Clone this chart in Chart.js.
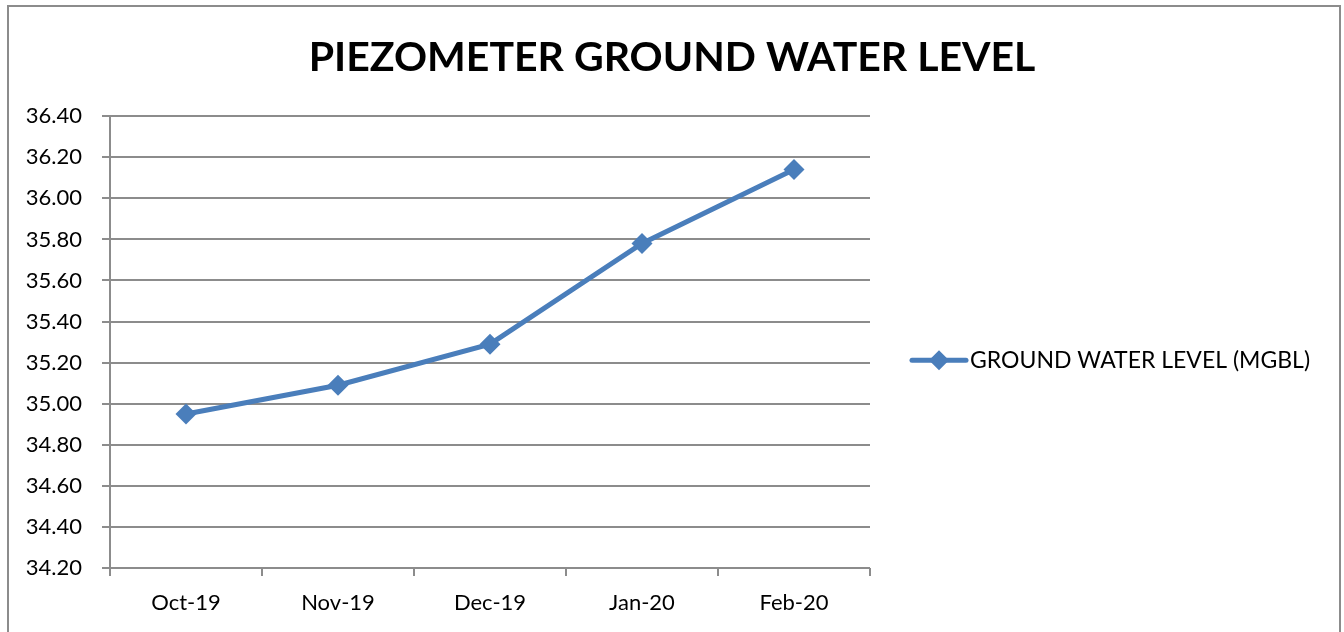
<!DOCTYPE html>
<html>
<head>
<meta charset="utf-8">
<script src="https://cdn.jsdelivr.net/npm/chart.js@4.4.1/dist/chart.umd.min.js"></script>
<style>
  html, body { margin: 0; padding: 0; background: #fff; }
  #wrap { position: relative; width: 1344px; height: 632px; overflow: hidden; }
  #frame { position: absolute; left: 7px; top: 5px; width: 1330px; height: 700px; border: 2px solid #8c8c8c; pointer-events: none; }
  canvas { position: absolute; left: 0; top: 0; }
</style>
</head>
<body>
<div id="wrap">
  <canvas id="chart" width="1344" height="632"></canvas>
  <div id="frame"></div>
</div>
<script>
const months = ['Oct-19', 'Nov-19', 'Dec-19', 'Jan-20', 'Feb-20'];
const levels = [34.95, 35.09, 35.29, 35.78, 36.14];
const yTicks = [34.2, 34.4, 34.6, 34.8, 35.0, 35.2, 35.4, 35.6, 35.8, 36.0, 36.2, 36.4];
const seriesName = 'GROUND WATER LEVEL (MGBL)';
const blue = '#4a7ebb';
const gray = '#8c8c8c';
const font = 'Lato, sans-serif';

// Excel-style legend: line with a diamond on it, to the right of the plot
const sideLegend = {
  id: 'sideLegend',
  afterDraw(chart) {
    const { ctx, chartArea } = chart;
    const x0 = chartArea.right + 42;
    const y = chartArea.top + chartArea.height * 0.54;
    ctx.save();
    ctx.strokeStyle = blue;
    ctx.lineWidth = 5;
    ctx.lineCap = 'round';
    ctx.beginPath();
    ctx.moveTo(x0, y);
    ctx.lineTo(x0 + 54, y);
    ctx.stroke();
    ctx.fillStyle = blue;
    ctx.beginPath();
    ctx.moveTo(x0 + 27, y - 10);
    ctx.lineTo(x0 + 37, y);
    ctx.lineTo(x0 + 27, y + 10);
    ctx.lineTo(x0 + 17, y);
    ctx.closePath();
    ctx.fill();
    ctx.fillStyle = '#000';
    ctx.font = '23px ' + font;
    ctx.textBaseline = 'middle';
    ctx.fillText(seriesName, x0 + 58, y);
    ctx.restore();
  }
};

new Chart(document.getElementById('chart'), {
  type: 'line',
  data: {
    labels: months,
    datasets: [{
      label: seriesName,
      data: levels,
      borderColor: blue,
      backgroundColor: blue,
      borderWidth: 5,
      pointStyle: 'rectRot',
      pointRadius: 10.5,
      pointHoverRadius: 10.5,
      pointBorderWidth: 0,
      tension: 0
    }]
  },
  options: {
    responsive: false,
    animation: false,
    layout: { padding: 0 },
    plugins: {
      legend: { display: false },
      tooltip: { enabled: false },
      title: {
        display: true,
        text: 'PIEZOMETER GROUND WATER LEVEL',
        color: '#000',
        font: { family: font, size: 41, weight: 'bold', lineHeight: 1.2 },
        padding: { top: 33, bottom: 34 }
      }
    },
    scales: {
      x: {
        offset: true,
        grid: { offset: true, drawOnChartArea: false, color: gray, lineWidth: 2, tickLength: 8 },
        border: { display: false },
        ticks: { color: '#000', font: { family: font, size: 22 }, padding: 14, maxRotation: 0 },
        afterFit(s) { s.height = 64; }
      },
      y: {
        min: 34.2,
        max: 36.4,
        afterBuildTicks(s) { s.ticks = yTicks.map(v => ({ value: v })); },
        grid: { color: gray, lineWidth: 2, tickLength: 8 },
        border: { color: gray, width: 2 },
        ticks: { color: '#000', font: { family: font, size: 22 }, padding: 20, callback: v => v.toFixed(2) },
        afterFit(s) { s.width = 110; }
      },
      side: {
        position: 'right',
        display: true,
        grid: { display: false },
        border: { display: false },
        ticks: { display: false },
        afterFit(s) { s.width = 474; }
      }
    }
  },
  plugins: [sideLegend]
});
</script>
</body>
</html>
